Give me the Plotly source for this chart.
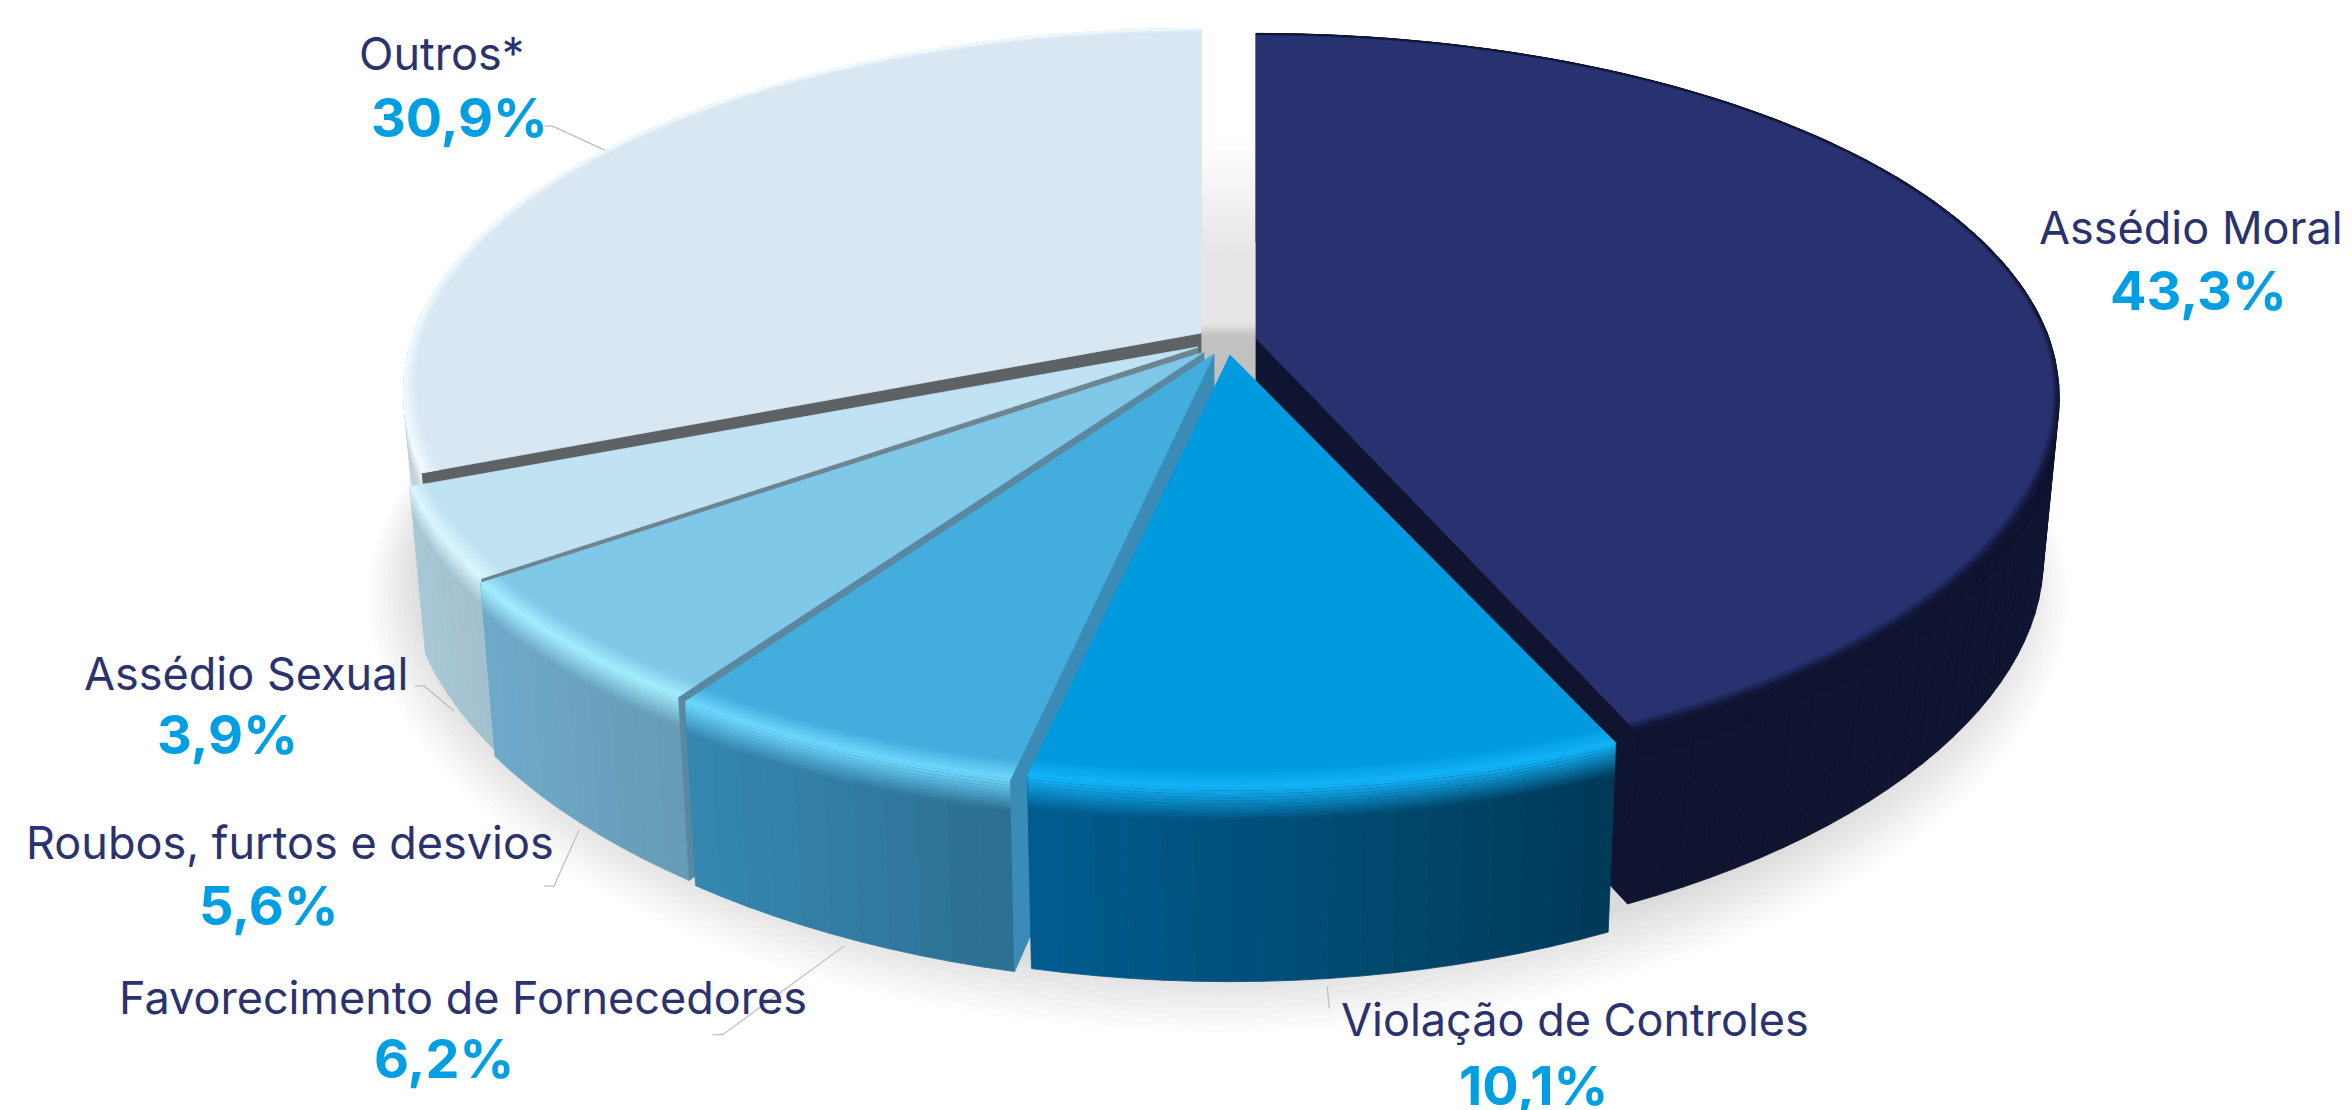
import numpy as np
import plotly.graph_objects as go

# Report categories and their shares, in drawing order clockwise from twelve o'clock
categories = ["Assédio Moral", "Violação de Controles", "Favorecimento de Fornecedores",
              "Roubos, furtos e desvios", "Assédio Sexual", "Outros*"]
shares = [43.3, 10.1, 6.2, 5.6, 3.9, 30.9]
value_labels = ["43,3%", "10,1%", "6,2%", "5,6%", "3,9%", "30,9%"]

face_colors = ["#283271", "#009ade", "#43aedd", "#80c8e8", "#c0e2f3", "#d9e7f3"]
glint_colors = ["#0f1430", "#14b4fa", "#70d8ff", "#a4efff", "#dcf8ff", "#f2fbff"]
wall_left = ["#0f1430", "#005e90", "#3688b2", "#70aacb", "#a9c8d6", "#c4d3de"]
wall_right = ["#0f1430", "#003a58", "#2c6f92", "#669cb6", "#a2c0ce", "#c4d3de"]
cut_colors = ["#0f1430", "#005e90", "#3a8bb5", "#5a88a0", "#6d8593", "#5d6266"]

# Exploded position of each slice's tip, and its stretch towards the viewer
tips = [(1256, 338), (1230, 355), (1214, 354), (1204, 352), (1198, 347), (1201, 333)]
stretch_x = [1.0, 1.018, 1.022, 1.015, 1.005, 0.993]
stretch_top = [1.04, 1.03, 1.04, 1.03, 1.03, 1.03]
stretch_floor = [1.0, 1.03, 1.04, 1.03, 1.03, 1.03]
ring_width = [0.5, 1.0, 1.0, 1.0, 1.0, 1.0]

# Perspective model of the extruded disc
RX, RY, PERSP, SHRINK = 793, 353, 0.159, 0.98
DEPTH_BACK, DEPTH_FRONT = 165, 38
BEVEL = 0.17


def project(tip, theta, r=1.0, depth=0.0, slice_index=None):
    """Page position of a point on the disc; depth runs 0 (top face) to 1 (floor)."""
    t = np.radians(theta)
    u, v = r * np.sin(t), -r * np.cos(t)
    w = 1 - PERSP * v
    scale = 1 + (SHRINK - 1) * depth
    drop = depth * (DEPTH_BACK + DEPTH_FRONT * v * v)
    sx, sy = 1.0, 1.0
    if slice_index is not None:
        sx = stretch_x[slice_index]
        front_y = stretch_top[slice_index] + (stretch_floor[slice_index] - stretch_top[slice_index]) * depth
        sy = np.where(v > 0, front_y, 1.0)
    return tip[0] + u * RX * sx * scale / w, tip[1] + v * RY * sy * scale / w + drop


def hex_rgb(c):
    return np.array([int(c[i:i + 2], 16) for i in (1, 3, 5)], dtype=float)


def mix(a, b, t):
    return tuple(hex_rgb(a) * (1 - t) + hex_rgb(b) * t)


def css(rgb, alpha=1.0):
    return "rgba(%d,%d,%d,%.3f)" % (rgb[0], rgb[1], rgb[2], alpha)


fig = go.Figure()


def poly(x, y, color, edge=True):
    fig.add_trace(go.Scatter(
        x=list(x), y=list(y), mode="lines", fill="toself", fillcolor=color,
        line=dict(color=color, width=0.8 if edge else 0),
        hoverinfo="skip", showlegend=False))


def band(ax, ay, bx, by, color, edge=True):
    poly(np.r_[ax, bx[::-1], ax[0]], np.r_[ay, by[::-1], ay[0]], color, edge)


# Soft ground shadow: faint discs seen through the gap, then a front crescent
for depth in np.arange(0.45, 1.0, 0.045):
    th = np.linspace(0, 360, 181)
    x, y = project((1228, 345), th, 0.97, depth)
    poly(x, y, "rgba(0,0,0,0.009)", edge=False)
for i in range(12):
    th = np.linspace(50, 310, 131)
    x, y = project((1218, 343), th, 1.08 - 0.006 * i, 1.14 - 0.011 * i)
    poly(x, y, "rgba(0,0,0,0.011)", edge=False)

edges = np.concatenate([[0], np.cumsum(shares)]) / sum(shares) * 360
mids = (edges[:-1] + edges[1:]) / 2

# Back slices first, nearest slice last
for i in [5, 4, 3, 2, 0, 1]:
    a0, a1 = edges[i], edges[i + 1]
    tip = tips[i]

    # Outer wall, shaded in narrow vertical strips
    n = max(10, int((a1 - a0) / 2))
    th = np.linspace(a0, a1, n + 1)
    xs = [project(tip, a, slice_index=i)[0] for a in (a0, a1)]
    for j in range(n):
        seg = np.linspace(th[j], th[j + 1], 4)
        xt, yt = project(tip, seg, slice_index=i)
        xb, yb = project(tip, seg, depth=1.0, slice_index=i)
        f = np.clip((xt.mean() - min(xs)) / (max(xs) - min(xs)), 0, 1)
        band(xt, yt, xb, yb, css(mix(wall_left[i], wall_right[i], f)))

    # Lower half of the rounded rim: the glint fading onto the wall
    arc = np.linspace(a0, a1, max(24, int(a1 - a0)))
    steps = 10
    for b in range(steps):
        x0, y0 = project(tip, arc, depth=BEVEL * b / steps, slice_index=i)
        x1, y1 = project(tip, arc, depth=BEVEL * (b + 1) / steps, slice_index=i)
        t = (b + 0.5) / steps
        band(x0, y0, x1, y1, css(hex_rgb(glint_colors[i]), 1 - t), edge=False)

    # Exposed cut side of the wedge
    if i != 1:
        cut_angle = a1 if i == 0 else a0
        xr, yr = project(tip, cut_angle, slice_index=i)
        xb, yb = project(tip, cut_angle, depth=1.0, slice_index=i)
        xa, ya = project(tip, cut_angle, r=0.0, depth=1.0, slice_index=i)
        poly([tip[0], xr, xb, xa, tip[0]], [tip[1], yr, yb, ya, tip[1]], cut_colors[i])

    # Top face
    x, y = project(tip, arc, slice_index=i)
    poly(np.r_[tip[0], x, tip[0]], np.r_[tip[1], y, tip[1]], face_colors[i])

    # Upper half of the rim: face colour turning into the glint near the edge
    front = np.maximum(-np.cos(np.radians(arc)), 0)
    width = (0.012 + 0.025 * front) * ring_width[i]
    rings = 8
    for b in range(rings):
        x0, y0 = project(tip, arc, r=1 - width * (1 - b / rings), slice_index=i)
        x1, y1 = project(tip, arc, r=1 - width * (1 - (b + 1) / rings), slice_index=i)
        band(x0, y0, x1, y1, css(mix(face_colors[i], glint_colors[i], (b + 0.5) / rings)))

# Leader lines run from each slice's mid-angle to a small elbow beside its label
leaders = {5: (0, [(-52, -24), (-60, -24)]), 4: (1, [(-30, -25), (-39, -25)]),
           3: (1, [(-25, 56), (-35, 56)]), 2: (1, [(-122, 89), (-132, 89)]),
           1: (1, [(2, 22)])}
for i, (on_floor, hops) in leaders.items():
    x0, y0 = project(tips[i], mids[i], depth=float(on_floor), slice_index=i)
    x0, y0 = float(x0), float(y0) + 8 * on_floor
    fig.add_trace(go.Scatter(
        x=[x0] + [x0 + h[0] for h in hops], y=[y0] + [y0 + h[1] for h in hops],
        mode="lines", line=dict(color="#bcbcbc", width=1.2),
        hoverinfo="skip", showlegend=False))

# Label anchors: (name centre x, name baseline, value centre x, value baseline)
placement = {0: (2191, 244, 2198, 310), 1: (1575, 1036, 1533, 1105),
             2: (463, 1014, 444, 1078), 3: (290, 859, 269, 925),
             4: (246, 690, 227, 754), 5: (441, 70, 459, 137)}
NAME_SIZE, VALUE_SIZE = 45, 54
annotations = []
for i, (nx, ny, vx, vy) in placement.items():
    annotations.append(dict(x=nx, y=ny - 0.36 * NAME_SIZE, text=categories[i], showarrow=False,
                            xanchor="center", yanchor="middle",
                            font=dict(family="Inter", size=NAME_SIZE, color="#2a3270")))
    annotations.append(dict(x=vx, y=vy - 0.36 * VALUE_SIZE, text="<b>%s</b>" % value_labels[i],
                            showarrow=False, xanchor="center", yanchor="middle",
                            font=dict(family="Inter", size=VALUE_SIZE, color="#009fe3")))

fig.update_layout(
    width=2352, height=1110, autosize=False,
    margin=dict(l=0, r=0, t=0, b=0),
    paper_bgcolor="white", plot_bgcolor="white",
    xaxis=dict(range=[0, 2352], visible=False, fixedrange=True),
    yaxis=dict(range=[1110, 0], visible=False, fixedrange=True),
    annotations=annotations,
)
fig.write_html("out.html", config=dict(displayModeBar=False))
